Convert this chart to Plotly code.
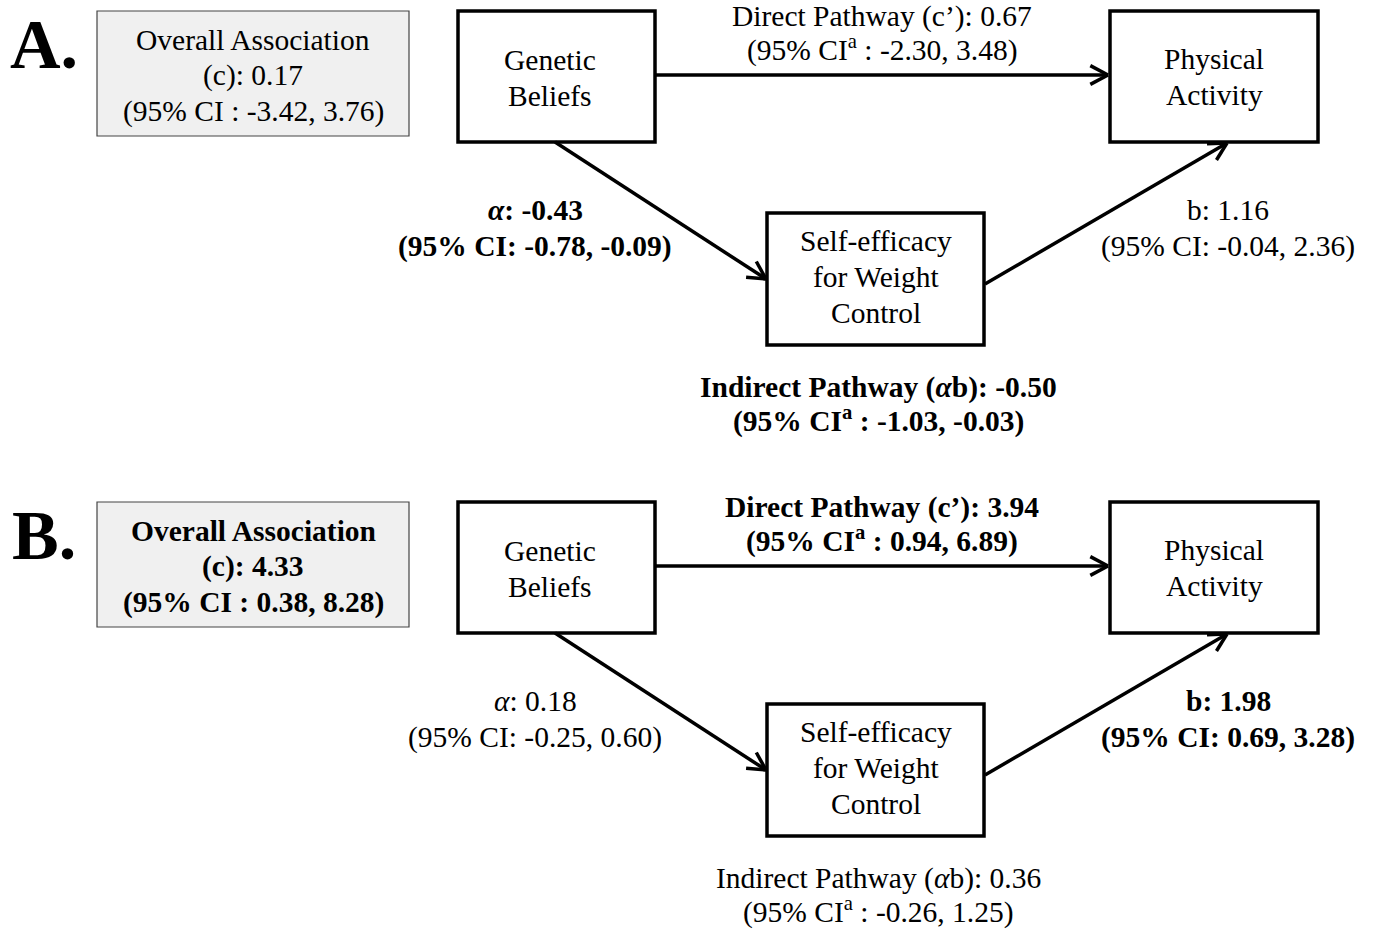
import numpy as np
import plotly.graph_objects as go

# ---- data ----
panels = ["A.", "B."]
overall_c = ["0.17", "4.33"]
overall_ci = [("-3.42", "3.76"), ("0.38", "8.28")]
overall_bold = [False, True]
direct_c = ["0.67", "3.94"]
direct_ci = [("-2.30", "3.48"), ("0.94", "6.89")]
direct_bold = [False, True]
alpha_val = ["-0.43", "0.18"]
alpha_ci = [("-0.78", "-0.09"), ("-0.25", "0.60")]
alpha_bold = [True, False]
b_val = ["1.16", "1.98"]
b_ci = [("-0.04", "2.36"), ("0.69", "3.28")]
b_bold = [False, True]
indirect_val = ["-0.50", "0.36"]
indirect_ci = [("-1.03", "-0.03"), ("-0.26", "1.25")]
indirect_bold = [True, False]

W, H = 1373, 929
FONT = "Liberation Serif"
FS = 29.5
panel_offset = [0, 491]

fig = go.Figure()
shapes = []
annots = []


def B(s, bold):
    return f"<b>{s}</b>" if bold else s


def text(x, y, s, size=FS):
    annots.append(dict(x=x, y=y, xref="x", yref="y", text=s, showarrow=False,
                       xanchor="center", yanchor="middle",
                       font=dict(family=FONT, size=size, color="black")))


def rect(x0, y0, x1, y1, width=3.5, color="black", fill="white"):
    shapes.append(dict(type="rect", xref="x", yref="y", x0=x0, y0=y0, x1=x1, y1=y1,
                       line=dict(color=color, width=width), fillcolor=fill, layer="below"))


def line(x0, y0, x1, y1, width=3.5):
    shapes.append(dict(type="line", xref="x", yref="y", x0=x0, y0=y0, x1=x1, y1=y1,
                       line=dict(color="black", width=width)))


def arrow(x0, y0, x1, y1, head=20, ang=np.deg2rad(28)):
    line(x0, y0, x1, y1)
    th = np.arctan2(y1 - y0, x1 - x0)
    for s in (1, -1):
        hx = x1 - head * np.cos(th + s * ang)
        hy = y1 - head * np.sin(th + s * ang)
        line(x1, y1, hx, hy)


for i, off in enumerate(panel_offset):
    # panel label
    text(44, 44 + off, f"<b>{panels[i]}</b>", size=70)

    # overall association box
    rect(97, 11 + off, 409, 136 + off, width=1.2, color="#444444", fill="#f0f0f0")
    ob = overall_bold[i]
    text(253, 40 + off, B("Overall Association", ob))
    text(253, 75 + off, B(f"(c): {overall_c[i]}", ob))
    text(253, 111 + off, B(f"(95% CI : {overall_ci[i][0]}, {overall_ci[i][1]})", ob))

    # boxes
    rect(458, 11 + off, 655, 142 + off)
    text(550, 60 + off, "Genetic")
    text(550, 96 + off, "Beliefs")

    rect(1110, 11 + off, 1318, 142 + off)
    text(1214, 59 + off, "Physical")
    text(1214, 95 + off, "Activity")

    rect(767, 213 + off, 984, 345 + off)
    text(876, 241 + off, "Self-efficacy")
    text(876, 277 + off, "for Weight")
    text(876, 313 + off, "Control")

    # arrows
    arrow(655, 75 + off, 1108, 75 + off)
    arrow(555, 142 + off, 766, 279 + off)
    arrow(985, 284 + off, 1227, 143 + off)

    # direct pathway text
    db = direct_bold[i]
    text(882, 16 + off, B(f"Direct Pathway (c’): {direct_c[i]}", db))
    text(882, 48 + off, B(f"(95% CI<sup>a</sup> : {direct_ci[i][0]}, {direct_ci[i][1]})", db))

    # alpha text
    ab = alpha_bold[i]
    text(535, 210 + off, B(f"<i>α</i>: {alpha_val[i]}", ab))
    text(535, 246 + off, B(f"(95% CI: {alpha_ci[i][0]}, {alpha_ci[i][1]})", ab))

    # b text
    bb = b_bold[i]
    text(1228, 210 + off, B(f"b: {b_val[i]}", bb))
    text(1228, 246 + off, B(f"(95% CI: {b_ci[i][0]}, {b_ci[i][1]})", bb))

    # indirect text
    ib = indirect_bold[i]
    text(878, 387 + off, B(f"Indirect Pathway (<i>α</i>b): {indirect_val[i]}", ib))
    text(878, 419 + off, B(f"(95% CI<sup>a</sup> : {indirect_ci[i][0]}, {indirect_ci[i][1]})", ib))

fig.update_layout(
    width=W, height=H,
    margin=dict(l=0, r=0, t=0, b=0),
    paper_bgcolor="white", plot_bgcolor="white",
    xaxis=dict(range=[0, W], visible=False, fixedrange=True),
    yaxis=dict(range=[H, 0], visible=False, fixedrange=True),
    shapes=shapes, annotations=annots, showlegend=False,
)
fig.write_html("out.html", config={"displayModeBar": False})

# remove default page margin so the figure sits at the top-left corner
with open("out.html", encoding="utf-8") as f:
    html = f.read()
html = html.replace("<head>", "<head><style>html,body{margin:0;padding:0;overflow:hidden;}</style>", 1)
with open("out.html", "w", encoding="utf-8") as f:
    f.write(html)
